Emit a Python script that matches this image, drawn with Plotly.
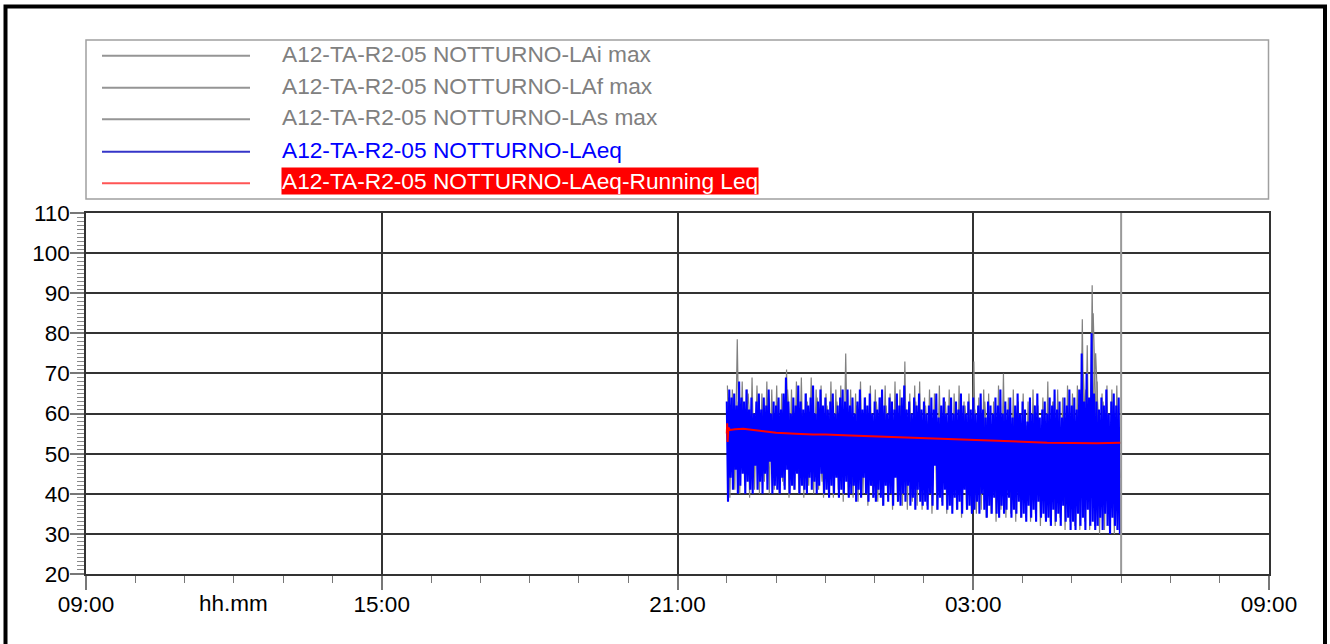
import datetime as dt
import plotly.graph_objects as go

# ---------------- data ----------------
series_names = [
    "A12-TA-R2-05 NOTTURNO-LAi max",
    "A12-TA-R2-05 NOTTURNO-LAf max",
    "A12-TA-R2-05 NOTTURNO-LAs max",
    "A12-TA-R2-05 NOTTURNO-LAeq",
    "A12-TA-R2-05 NOTTURNO-LAeq-Running Leq",
]
x_tick_hours = ["09:00", "15:00", "21:00", "03:00", "09:00"]
x_unit_label = "hh.mm"

axis_start = dt.datetime(2020, 1, 1, 9, 0)
axis_end = dt.datetime(2020, 1, 2, 9, 0)
meas_start = dt.datetime(2020, 1, 1, 22, 0)
meas_end_min = 480  # minutes after start (06:00)

# LAeq: alternating short-term peaks / dips, 3-minute steps
laeq_hi = [
    63, 66, 64, 65, 62, 68, 64, 63, 66, 61,
    64, 60, 63, 65, 61, 64, 62, 66, 60, 63,
    62, 64, 61, 65, 69, 63, 60, 64, 62, 67,
    63, 61, 65, 62, 64, 67, 60, 63, 66, 62,
    64, 61, 63, 65, 60, 62, 64, 66, 63, 66,
    62, 64, 60, 63, 66, 61, 64, 62, 65, 60,
    63, 61, 64, 66, 62, 60, 64, 63, 61, 65,
    62, 64, 67, 61, 63, 60, 64, 62, 65, 61,
    63, 60, 62, 64, 61, 65, 59, 62, 64, 60,
    62, 64, 60, 63, 61, 65, 62, 60, 63, 61,
    64, 60, 62, 65, 61, 59, 63, 62, 60, 64,
    62, 66, 60, 63, 61, 64, 59, 62, 65, 60,
    63, 61, 58, 64, 60, 62, 65, 59, 61, 63,
    60, 64, 62, 66, 61, 63, 59, 64, 62, 66,
    62, 64, 61, 66, 75, 63, 70, 64, 80, 65,
    63, 61, 64, 62, 66, 60, 63, 65, 62, 64,
]
laeq_lo = [
    38, 44, 41, 46, 40, 42, 45, 40, 43, 41,
    40, 47, 41, 43, 40, 45, 41, 48, 40, 42,
    41, 40, 44, 41, 46, 40, 42, 41, 45, 40,
    42, 41, 40, 44, 41, 43, 40, 42, 45, 40,
    41, 39, 42, 40, 44, 39, 41, 40, 43, 39,
    40, 42, 38, 41, 39, 44, 40, 38, 42, 39,
    38, 41, 39, 37, 42, 38, 40, 37, 44, 38,
    37, 40, 38, 42, 37, 39, 36, 41, 38, 37,
    38, 36, 40, 37, 47, 36, 39, 37, 41, 36,
    37, 35, 39, 36, 38, 35, 41, 36, 37, 35,
    36, 38, 35, 40, 36, 34, 37, 35, 39, 35,
    34, 37, 35, 36, 39, 34, 36, 35, 38, 34,
    35, 33, 37, 34, 36, 33, 38, 34, 35, 33,
    34, 32, 36, 33, 35, 32, 37, 33, 34, 31,
    33, 31, 35, 32, 34, 31, 36, 32, 33, 31,
    32, 34, 31, 35, 32, 30, 34, 32, 31, 30,
]

# LAi max: 6-minute steps
lai_hi = [
    67, 66, 78.5, 68, 66, 69, 67, 65, 68, 66,
    67, 65, 71, 66, 68, 69, 65, 69, 66, 67,
    65, 68, 66, 67, 75, 66, 65, 68, 64, 67,
    66, 64, 67, 65, 68, 66, 73, 65, 67, 68,
    64, 66, 65, 67, 64, 66, 65, 67, 63, 65,
    73, 64, 66, 65, 63, 67, 70, 64, 66, 63,
    65, 63, 66, 62, 64, 68, 63, 66, 64, 67,
    65, 67, 83.5, 77, 92, 68, 65, 67, 66, 67,
]
lai_lo = [
    39, 41, 40, 42, 39, 41, 40, 43, 40, 41,
    40, 42, 39, 41, 40, 39, 42, 40, 41, 39,
    40, 39, 41, 38, 40, 39, 38, 40, 37, 39,
    38, 37, 39, 36, 38, 37, 36, 38, 37, 36,
    37, 35, 36, 38, 35, 37, 36, 34, 36, 35,
    35, 36, 34, 35, 33, 36, 34, 35, 33, 34,
    34, 33, 35, 32, 34, 33, 32, 34, 31, 33,
    32, 31, 33, 31, 32, 30, 31, 32, 30, 31,
]

# LAf max / LAs max: 12-minute steps
laf_hi = [64, 63, 65, 62, 64, 63, 66, 62, 63, 64, 62, 63, 65, 62, 61, 63, 62, 64, 61, 63,
          62, 61, 63, 60, 62, 61, 63, 60, 62, 61, 60, 62, 61, 63, 60, 62, 70, 85, 63, 62]
laf_lo = [45, 47, 44, 46, 45, 43, 46, 44, 45, 43, 44, 46, 43, 44, 42, 45, 43, 44, 42, 43,
          41, 43, 42, 40, 42, 41, 43, 40, 41, 39, 40, 41, 39, 40, 38, 40, 39, 38, 39, 38]
las_hi = [60, 59, 61, 58, 60, 59, 60, 58, 59, 60, 58, 59, 60, 57, 58, 59, 57, 58, 59, 57,
          58, 57, 58, 56, 57, 58, 56, 57, 58, 56, 57, 56, 57, 58, 56, 57, 66, 75, 58, 57]
las_lo = [49, 50, 48, 49, 50, 48, 49, 47, 48, 49, 47, 48, 49, 46, 47, 48, 46, 47, 48, 46,
          47, 46, 47, 45, 46, 47, 45, 46, 47, 45, 46, 45, 46, 47, 45, 46, 45, 44, 45, 44]

# Running Leq
run_min = [0, 0.5, 1, 2, 4, 10, 20, 30, 45, 60, 75, 90, 105, 120, 150, 180, 210, 240,
           270, 300, 330, 360, 390, 420, 450, 480]
run_val = [55.0, 57.6, 52.9, 56.5, 55.9, 56.1, 56.2, 56.0, 55.6, 55.2, 55.0, 54.9, 54.8,
           54.8, 54.5, 54.3, 54.0, 53.8, 53.6, 53.4, 53.2, 53.0, 52.7, 52.6, 52.6, 52.7]

# ---------------- styles ----------------
colors = ["#808080", "#808080", "#808080", "#0000ff", "#ff0000"]
legend_line_colors = ["#959595", "#959595", "#959595", "#3535c8", "#ff5555"]
legend_text_colors = ["#808080", "#808080", "#808080", "#0000ff", "#ffffff"]
FONT = "Liberation Sans, Arial, sans-serif"

W, H = 1330, 644
PL, PR, PT, PB = 86, 1269, 213, 574


def px_x(px):
    return (px - PL) / (PR - PL)


def px_y(py):
    return (PB - py) / (PB - PT)


def zigzag(hi, lo, step, off_hi, off_lo):
    xs, ys = [], []
    for i, (a, b) in enumerate(zip(hi, lo)):
        xs.append(meas_start + dt.timedelta(minutes=step * i + off_hi))
        ys.append(a)
        xs.append(meas_start + dt.timedelta(minutes=step * i + off_lo))
        ys.append(b)
    return xs, ys


fig = go.Figure()

traces = [
    zigzag(lai_hi, lai_lo, 6, 0.75, 3.75),
    zigzag(laf_hi, laf_lo, 12, 2, 8),
    zigzag(las_hi, las_lo, 12, 5, 11),
    zigzag(laeq_hi, laeq_lo, 3, 0, 1.5),
    ([meas_start + dt.timedelta(minutes=m) for m in run_min], run_val),
]
widths = [1.2, 1.2, 1.2, 2.1, 2]
for (xs, ys), name, c, w in zip(traces, series_names, colors, widths):
    fig.add_trace(go.Scatter(x=xs, y=ys, mode="lines", name=name,
                             line=dict(color=c, width=w), showlegend=False,
                             hoverinfo="skip"))

# end-of-measurement cursor
end_time = meas_start + dt.timedelta(minutes=meas_end_min)
fig.add_shape(type="line", xref="x", yref="paper", x0=end_time, x1=end_time,
              y0=0, y1=1, line=dict(color="#999999", width=2), layer="above")

# outer frame
fig.add_shape(type="rect", xref="paper", yref="paper",
              x0=px_x(5.5), x1=px_x(1325), y0=px_y(720), y1=px_y(6.5),
              line=dict(color="black", width=4))

# legend box
fig.add_shape(type="rect", xref="paper", yref="paper",
              x0=px_x(86), x1=px_x(1268.5), y0=px_y(199), y1=px_y(40),
              line=dict(color="#a0a0a0", width=1.5))
row_y = [55.7, 87.7, 119.3, 151.7, 183.3]
for ry, name, lc, tc, i in zip(row_y, series_names, legend_line_colors,
                               legend_text_colors, range(5)):
    fig.add_shape(type="line", xref="paper", yref="paper",
                  x0=px_x(102), x1=px_x(250), y0=px_y(ry), y1=px_y(ry),
                  line=dict(color=lc, width=2))
    fig.add_annotation(xref="paper", yref="paper", x=px_x(281), y=px_y(ry - 2),
                       xanchor="left", yanchor="middle", text=name, showarrow=False,
                       font=dict(family=FONT, size=22.7, color=tc),
                       bgcolor="#ff0000" if i == 4 else None, borderpad=0)

# x unit label
fig.add_annotation(xref="x", yref="paper", x=dt.datetime(2020, 1, 1, 12, 0),
                   y=px_y(603), xanchor="center", yanchor="middle", text=x_unit_label,
                   showarrow=False, font=dict(family=FONT, size=22.5, color="black"))

tickvals = [axis_start + dt.timedelta(hours=6 * k) for k in range(5)]
fig.update_xaxes(
    type="date", range=[axis_start, axis_end],
    tickvals=tickvals, ticktext=x_tick_hours,
    ticks="outside", ticklen=14, tickcolor="#777777", tickwidth=1.5,
    ticklabelstandoff=-5,
    showgrid=True, gridcolor="#333333", gridwidth=1.5,
    showline=True, linecolor="#333333", linewidth=1.5, mirror=True,
    zeroline=False,
    tickfont=dict(family=FONT, size=22.5, color="black"),
    minor=dict(dtick=3600000, ticks="outside", ticklen=7, tickcolor="#777777",
               tickwidth=1.2, showgrid=False),
)
fig.update_yaxes(
    range=[20, 110], dtick=10, tick0=0,
    ticks="outside", ticklen=14, tickcolor="#777777", tickwidth=1.5,
    ticklabelstandoff=-4,
    showgrid=True, gridcolor="#333333", gridwidth=1.5,
    showline=True, linecolor="#333333", linewidth=1.5, mirror=True,
    zeroline=False,
    tickfont=dict(family=FONT, size=22.5, color="black"),
    minor=dict(dtick=1, ticks="outside", ticklen=7, tickcolor="#8a8a8a",
               tickwidth=1.2, showgrid=False),
)

fig.update_layout(
    width=W, height=H, autosize=False,
    margin=dict(l=PL, r=W - PR, t=PT, b=H - PB, pad=0),
    paper_bgcolor="white", plot_bgcolor="white",
    font=dict(family=FONT, size=22, color="black"),
    showlegend=False,
)

fig.write_html("out.html",
               config={"displayModeBar": False},
               post_script="document.body.style.margin='0';"
                           "document.body.style.overflow='hidden';")
